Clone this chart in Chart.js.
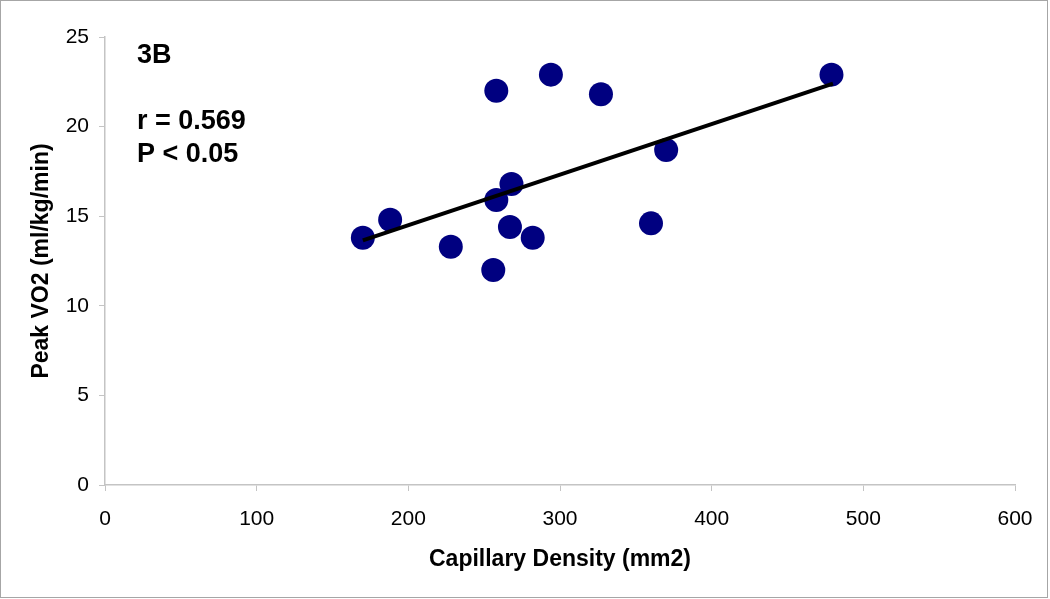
<!DOCTYPE html>
<html>
<head>
<meta charset="utf-8">
<script src="https://cdn.jsdelivr.net/npm/chart.js@4"></script>
<style>
  html, body { margin: 0; padding: 0; background: #fff; }
  #wrap { width: 1050px; height: 599px; }
</style>
</head>
<body>
<div id="wrap"><canvas id="myChart" width="1050" height="599"></canvas></div>
<script>
// values
var densityX = [170, 188, 228, 256, 258, 258, 268, 267, 282, 294, 327, 360, 370, 479];
var peakVO2 = [13.8, 14.8, 13.3, 12.0, 22.0, 15.9, 16.8, 14.4, 13.8, 22.9, 21.8, 14.6, 18.7, 22.9];

// fitted line end points, as drawn
var trendX = [170, 480];
var trendY = [13.65, 22.4];

var xTicks = [0, 100, 200, 300, 400, 500, 600];
var yTicks = [0, 5, 10, 15, 20, 25];

var noteLines = ['3B', '', 'r = 0.569', 'P < 0.05'];

var points = densityX.map(function (x, i) { return { x: x, y: peakVO2[i] }; });
var trend = trendX.map(function (x, i) { return { x: x, y: trendY[i] }; });

var axisGray = '#c4c4c4';
var fontFam = '"Liberation Sans", Arial, sans-serif';

// text in the top-left corner plus the thin frame round the picture
var extras = {
    id: 'extras',
    afterDraw: function (chart) {
        var c = chart.ctx;
        var a = chart.chartArea;
        c.save();
        c.fillStyle = '#000';
        c.font = 'bold 27px ' + fontFam;
        c.textBaseline = 'alphabetic';
        c.fillText(noteLines[0], a.left + 32, 63);
        c.fillText(noteLines[2], a.left + 32, 129);
        c.fillText(noteLines[3], a.left + 32, 162);
        c.strokeStyle = '#a6a6a6';
        c.lineWidth = 1;
        c.strokeRect(0.5, 0.5, 1047, 597);
        c.restore();
    }
};

var ctx = document.getElementById('myChart').getContext('2d');
var chart = new Chart(ctx, {
    type: 'scatter',
    data: {
        datasets: [{
            type: 'line',
            label: 'fit',
            data: trend,
            borderColor: '#000',
            borderWidth: 4,
            pointRadius: 0,
            fill: false
        },
        {
            label: 'Peak VO2',
            data: points,
            backgroundColor: '#000080',
            borderColor: '#000080',
            borderWidth: 0,
            pointRadius: 12,
            pointHoverRadius: 12
        }]
    },
    options: {
        responsive: false,
        animation: false,
        layout: { padding: { top: 37, right: 35, left: 0, bottom: 0 } },
        plugins: {
            legend: { display: false },
            tooltip: { enabled: false }
        },
        scales: {
            x: {
                type: 'linear',
                min: 0,
                max: 600,
                afterBuildTicks: function (s) { s.ticks = xTicks.map(function (v) { return { value: v }; }); },
                afterFit: function (s) { s.height = 114; },
                grid: { drawOnChartArea: false, drawTicks: true, tickLength: 6, color: axisGray },
                border: { display: true, color: axisGray, width: 1.5 },
                ticks: { color: '#000', font: { family: fontFam, size: 21 }, padding: 16, maxRotation: 0 },
                title: {
                    display: true,
                    text: 'Capillary Density (mm2)',
                    color: '#000',
                    font: { family: fontFam, size: 23, weight: 'bold' },
                    padding: { top: 0, bottom: 26 }
                }
            },
            y: {
                type: 'linear',
                min: 0,
                max: 25,
                afterBuildTicks: function (s) { s.ticks = yTicks.map(function (v) { return { value: v }; }); },
                afterFit: function (s) { s.width = 105; },
                grid: { drawOnChartArea: false, drawTicks: true, tickLength: 6, color: axisGray },
                border: { display: true, color: axisGray, width: 1.5 },
                ticks: { color: '#000', font: { family: fontFam, size: 21 }, padding: 10 },
                title: {
                    display: true,
                    text: 'Peak VO2 (ml/kg/min)',
                    color: '#000',
                    font: { family: fontFam, size: 23, weight: 'bold' },
                    padding: { top: 28, bottom: 0 }
                }
            }
        }
    },
    plugins: [extras]
});
</script>
</body>
</html>
